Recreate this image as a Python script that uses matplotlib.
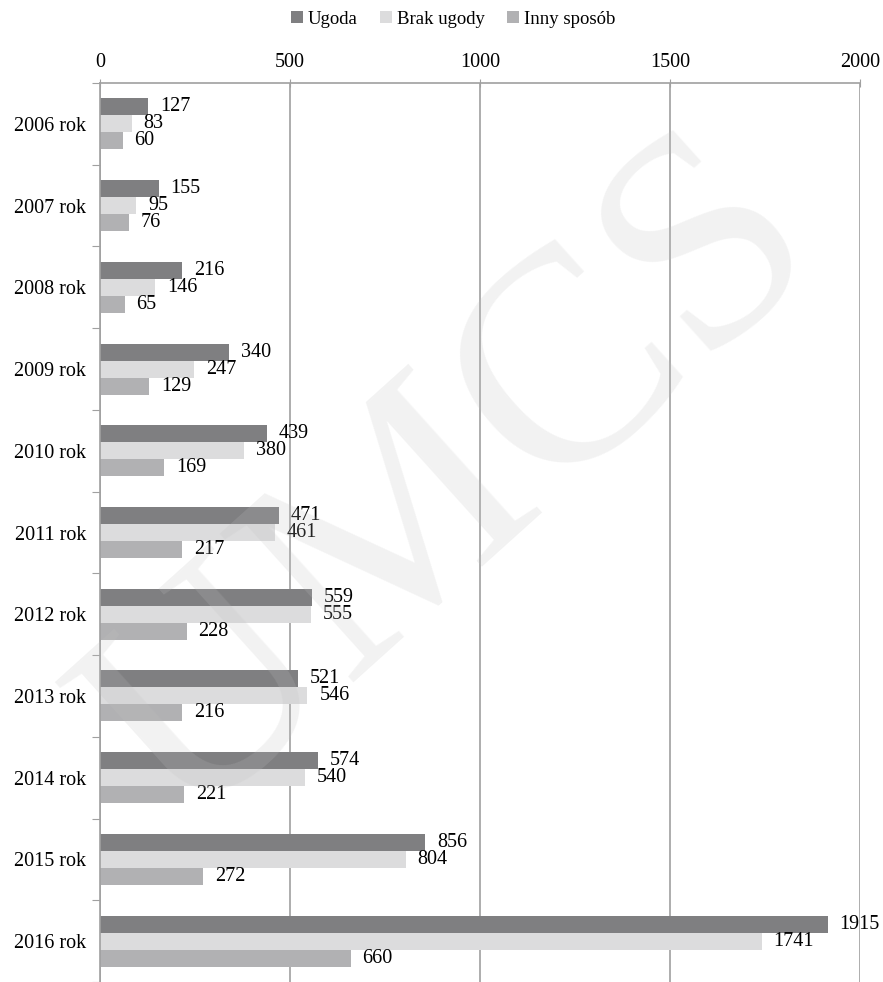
import matplotlib.pyplot as plt
import numpy as np

plt.rcParams['font.family'] = ['Liberation Serif', 'DejaVu Serif']

# Data
years = ["2006 rok", "2007 rok", "2008 rok", "2009 rok", "2010 rok", "2011 rok",
         "2012 rok", "2013 rok", "2014 rok", "2015 rok", "2016 rok"]
ugoda = [127, 155, 216, 340, 439, 471, 559, 521, 574, 856, 1915]
brak_ugody = [83, 95, 146, 247, 380, 461, 555, 546, 540, 804, 1741]
inny_sposob = [60, 76, 65, 129, 169, 217, 228, 216, 221, 272, 660]

series = [("Ugoda", ugoda, "#7f7f81"),
          ("Brak ugody", brak_ugody, "#dcdcdd"),
          ("Inny sposób", inny_sposob, "#b1b1b3")]

fs = 14.5

fig = plt.figure(figsize=(8.83, 9.82), dpi=100)
ax = fig.add_axes([100 / 883, 0.0, 760 / 883, 1 - 83 / 982])

y = np.arange(len(years))
h = 0.208

for i, (name, vals, color) in enumerate(series):
    pos = y + (i - 1) * h
    ax.barh(pos, vals, height=h, color=color, label=name, zorder=2)
    for p, v in zip(pos, vals):
        ax.annotate(str(v), (v, p), xytext=(8.5, 0), textcoords="offset points",
                    ha="left", va="center", fontsize=fs, zorder=4)

ax.set_xlim(0, 2000)
ax.set_ylim(len(years) - 0.5, -0.5)
ax.xaxis.tick_top()
ax.set_xticks([0, 500, 1000, 1500, 2000])
ax.tick_params(axis="x", direction="inout", length=6, color="#a0a0a0",
               labelsize=fs, pad=5)
ax.grid(axis="x", color="#a0a0a0", linewidth=1.2, zorder=1)
ax.set_axisbelow(True)

# year labels between boundary ticks
ax.set_yticks(np.arange(len(years) + 1) - 0.5)
ax.set_yticklabels([])
ax.set_yticks(y, minor=True)
ax.set_yticklabels(years, minor=True, fontsize=fs)
ax.tick_params(axis="y", which="major", direction="out", length=6, color="#a0a0a0")
ax.tick_params(axis="y", which="minor", length=0, pad=10)

for s in ["right", "bottom"]:
    ax.spines[s].set_visible(False)
ax.spines["top"].set_color("#a0a0a0")
ax.spines["top"].set_linewidth(1.2)
ax.spines["left"].set_color("#a0a0a0")
ax.spines["left"].set_linewidth(1.2)

fig.legend(loc="center", bbox_to_anchor=(0.513, 1 - 19 / 982), ncol=3,
           frameon=False, fontsize=13.5, handlelength=0.65, handleheight=0.65,
           handletextpad=0.25, columnspacing=1.2)

# watermark, semi-transparent over everything
fig.text(0.515, 0.505, "UMCS", fontsize=220, color="#c1c1c1", alpha=0.2,
         rotation=42, ha="center", va="center", zorder=10)

fig.savefig("out.png", dpi=100)
